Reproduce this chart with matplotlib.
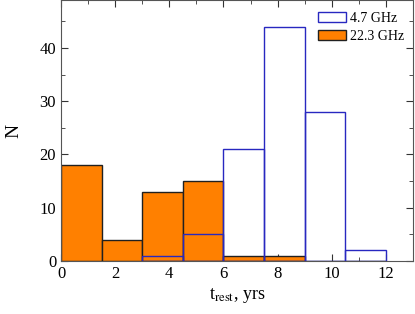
import numpy as np
import matplotlib
matplotlib.use("Agg")
import matplotlib.pyplot as plt
from matplotlib.ticker import MultipleLocator

plt.rcParams["font.family"] = ["Liberation Serif", "DejaVu Serif"]
plt.rcParams["mathtext.fontset"] = "stix"

# bin edges (yrs) and counts per bin
edges = [0, 1.5, 3, 4.5, 6, 7.5, 9, 10.5, 12]
n_47 = [0, 0, 1, 5, 21, 44, 28, 2]
n_223 = [18, 4, 13, 15, 1, 1, 0, 0]

fig = plt.figure(figsize=(4.15, 3.14), dpi=100)
ax = fig.add_axes([0.147, 0.169, 0.848, 0.831])

w = np.diff(edges)
left = np.array(edges[:-1])
ax.bar(left, n_223, width=w, align="edge", facecolor="#ff8000",
       edgecolor="#202020", linewidth=1.0, label="22.3 GHz", zorder=2)
m = np.array(n_47) > 0
ax.bar(left[m], np.array(n_47)[m], width=w[m], align="edge", facecolor="none",
       edgecolor="#2828c0", linewidth=1.0, label="4.7 GHz", zorder=3)

ax.set_xlim(0, 13)
ax.set_ylim(0, 49)
ax.xaxis.set_major_locator(MultipleLocator(2))
ax.xaxis.set_minor_locator(MultipleLocator(1))
ax.yaxis.set_major_locator(MultipleLocator(10))
ax.yaxis.set_minor_locator(MultipleLocator(5))
ax.tick_params(which="both", direction="in", top=True, right=True, labelsize=12,
               color="#333333")
ax.tick_params(which="major", length=5)
ax.tick_params(which="minor", length=3)
for s in ax.spines.values():
    s.set_color("#555555")

ax.set_xlabel(r"t$_{\mathrm{rest}}$, yrs", fontsize=13, labelpad=3)
ax.set_ylabel("N", fontsize=14, labelpad=12)

h, l = ax.get_legend_handles_labels()
ax.legend(h[::-1], l[::-1], loc="upper right", bbox_to_anchor=(1.0, 0.985),
          frameon=False, fontsize=10, handlelength=2.0, handleheight=0.75,
          borderaxespad=0.2, labelspacing=0.35, handletextpad=0.3)

fig.savefig("out.png", dpi=100)
